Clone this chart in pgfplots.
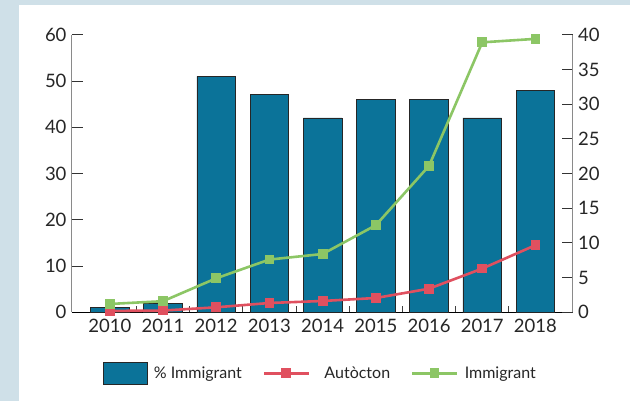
\documentclass[border=0pt]{standalone}
\usepackage{fontspec}
\setmainfont{Lato}
\usepackage{pgfplots}
\pgfplotsset{compat=1.18}
\definecolor{bgstrip}{HTML}{CFE0E8}
\definecolor{barblue}{HTML}{0B7399}
\definecolor{redline}{HTML}{E0505F}
\definecolor{greenline}{HTML}{8CC665}
\definecolor{axgray}{HTML}{8A8A8A}
\pgfplotsset{
  mylegline/.style={legend image code/.code={\draw[mark repeat=2,mark phase=2,#1] plot coordinates {(0pt,0pt) (22pt,0pt) (45pt,0pt)};}},
  mylegbar/.style={legend image code/.code={\draw[fill=barblue,draw=black!85,line width=0.7pt] (0pt,-11pt) rectangle (44pt,11pt);}},
  common/.style={
    at={(0,0)}, anchor=south west, scale only axis,
    width=500.7pt, height=277.6pt,
    xmin=-0.71, xmax=8.70, ymin=0,
    tick align=inside, major tick length=11pt,
    tick style={black!80, line width=0.8pt},
    ticklabel style={font=\fontsize{18.5}{20}\selectfont, text=black!85},
    /pgf/number format/assume math mode=true,
  }
}
\begin{document}
\begin{tikzpicture}[x=1pt,y=1pt]
\fill[bgstrip] (-72,-88.7) rectangle (558,312.3);
\fill[white] (-53,-88.7) rectangle (558,307.3);
\begin{axis}[common,
  ymax=60, ytick={0,10,...,60},
  axis y line*=left, axis x line*=bottom,
  y axis line style={axgray, line width=1pt},
  x axis line style={black, line width=1pt},
  yticklabel style={xshift=-2pt},
  xtick=\empty,
  extra x ticks={0,1,2,3,4,5,6,7,8},
  extra x tick labels={2010,2011,2012,2013,2014,2015,2016,2017,2018},
  extra x tick style={tick style={draw=none}, xticklabel style={yshift=-3pt}},
]
\addplot[ycomb, black!75, line width=0.9pt, no markers, forget plot]
  coordinates {(0.5,1.3) (1.5,1.3) (2.5,1.3) (3.5,1.3) (4.5,1.3) (5.5,1.3) (6.5,1.3) (7.5,1.3)};
\addplot[ybar, bar width=0.726, fill=barblue, draw=black!85, line width=0.7pt, bar shift=0pt]
  coordinates {(0,1) (1,2) (2,51) (3,47) (4,42) (5,46) (6,46) (7,42) (8,48)};
\end{axis}
\begin{axis}[common,
  ymax=40, ytick={0,5,...,40},
  axis y line*=right, axis x line=none,
  y axis line style={axgray, line width=1pt},
  yticklabel style={xshift=2pt},
  legend columns=3,
  legend style={at={(0.056,-0.22)}, anchor=west, draw=none, fill=none,
    font=\fontsize{16}{19}\selectfont, text=black!85,
    /tikz/every even column/.append style={column sep=19pt},
    /tikz/every odd column/.append style={column sep=4pt}},
]
\addlegendimage{mylegbar}
\addlegendentry{\% Immigrant}
\addplot[redline, line width=2.6pt, mark=square*, mark size=3.6pt, mylegline]
  coordinates {(0,0.2) (1,0.25) (2,0.72) (3,1.34) (4,1.63) (5,2.06) (6,3.4) (7,6.3) (8,9.67)};
\addlegendentry{\hspace{8pt}Autòcton}
\addplot[greenline, line width=2.6pt, mark=square*, mark size=3.6pt, mylegline]
  coordinates {(0,1.2) (1,1.6) (2,4.9) (3,7.6) (4,8.4) (5,12.55) (6,21.1) (7,38.9) (8,39.4)};
\addlegendentry{Immigrant}
\end{axis}
\end{tikzpicture}
\end{document}
